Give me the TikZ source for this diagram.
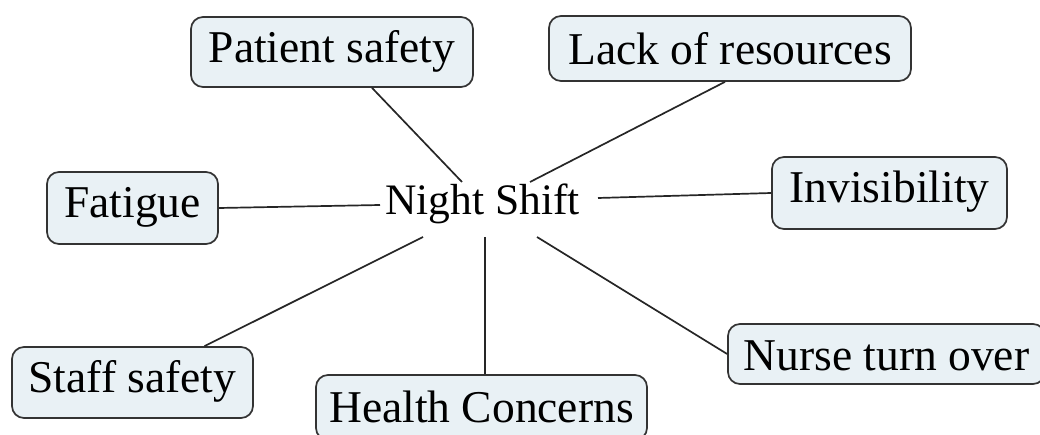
\documentclass[tikz,border=0pt]{standalone}
\usepackage{fontspec}
\setmainfont{Liberation Serif}
\definecolor{boxfill}{HTML}{E9F1F5}
\definecolor{boxline}{HTML}{333333}
\begin{document}
\begin{tikzpicture}[x=1pt,y=-1pt,
  box/.style={draw=boxline, fill=boxfill, line width=1.7pt, rounded corners=12pt,
    inner xsep=2pt, inner ysep=0pt, font=\fontsize{45.5}{50}\selectfont,
    text height=30pt, text depth=10pt},
  link/.style={line width=1.7pt, draw=black!85}]
\useasboundingbox (0,0) rectangle (1040,435);
\clip (0,0) rectangle (1040,435);
\node[box, minimum width=282pt, minimum height=70pt, text height=31pt, text depth=9pt] (patient) at (332,52) {Patient safety};
\node[box, minimum width=362pt, minimum height=65pt, text height=36pt, text depth=3pt] (lack) at (730,48.5) {Lack of resources};
\node[box, minimum width=235pt, minimum height=72pt] (invis) at (889.5,193) {Invisibility};
\node[box, minimum width=171pt, minimum height=72pt] (fatigue) at (132.5,208) {Fatigue};
\node[box, minimum width=241pt, minimum height=71pt] (staff) at (132.5,382.5) {Staff safety};
\node[box, minimum width=331pt, minimum height=65pt, text height=34pt, text depth=5pt] (health) at (481.5,407.5) {Health Concerns};
\node[box, minimum width=317pt, minimum height=60pt, text height=35pt, text depth=3pt] (nurse) at (886.5,354) {Nurse turn over};
\node[font=\fontsize{43.5}{50}\selectfont, anchor=base, inner sep=0pt] (ns) at (482.5,215) {Night Shift};
\coordinate (pEnd) at (462,182);
\coordinate (lEnd) at (530,182);
\coordinate (iEnd) at (598,198);
\coordinate (fEnd) at (380,205);
\coordinate (sEnd) at (423,237);
\coordinate (hEnd) at (485,237);
\coordinate (nEnd) at (537,237);
\draw[link] ([xshift=40pt]patient.south) -- (pEnd);
\draw[link] ([xshift=-5pt]lack.south) -- (lEnd);
\draw[link] (invis.west) -- (iEnd);
\draw[link] (fatigue.east) -- (fEnd);
\draw[link] ([xshift=72pt]staff.north) -- (sEnd);
\draw[link] (hEnd) -- (hEnd |- health.north);
\draw[link] (nurse.west) -- (nEnd);
\end{tikzpicture}
\end{document}
